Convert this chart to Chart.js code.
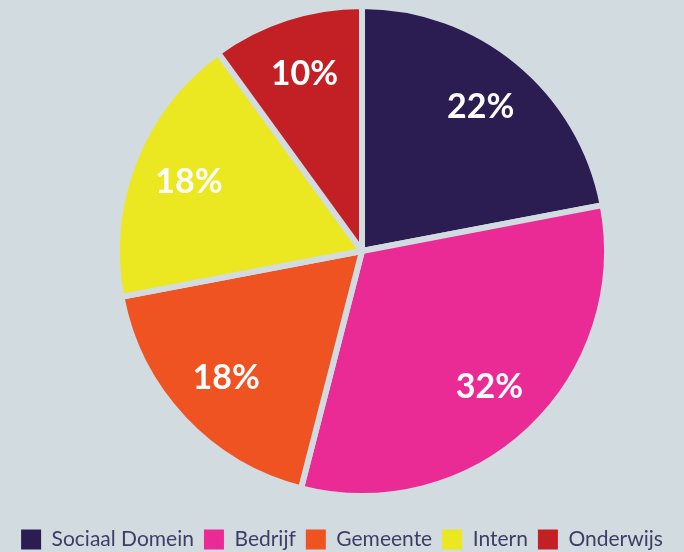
<!DOCTYPE html>
<html lang="nl">
<head>
  <meta charset="UTF-8">
  <title>Verdeling</title>
  <script src="https://cdn.jsdelivr.net/npm/chart.js"></script>
  <style>
    html, body { margin: 0; padding: 0; background: #d2dbe0; }
    #wrap { width: 684px; height: 552px; }
  </style>
</head>
<body>
  <div id="wrap"><canvas id="pieChart"></canvas></div>
  <script>
    // data
    const categories = ['Sociaal Domein', 'Bedrijf', 'Gemeente', 'Intern', 'Onderwijs'];
    const shares = [22, 32, 18, 18, 10];
    const sliceColors = ['#2b1c52', '#eb2b95', '#ef5322', '#ebe721', '#c32026'];

    // taart iets naar rechts en omhoog, legenda tegen de onderrand
    const pieArea = {
      id: 'pieArea',
      afterLayout(chart) {
        const a = chart.chartArea;
        a.left = 114; a.right = 610; a.width = 496;
        a.top = 3; a.bottom = 499; a.height = 496;
        chart.legend.top += 8;
        chart.legend.bottom += 8;
      }
    };

    // percentages op de taartpunten
    const pctLabels = {
      id: 'pctLabels',
      afterDatasetsDraw(chart) {
        const ctx = chart.ctx;
        const meta = chart.getDatasetMeta(0);
        ctx.save();
        ctx.fillStyle = '#ffffff';
        ctx.font = 'bold 34px Lato, sans-serif';
        ctx.textAlign = 'center';
        ctx.textBaseline = 'middle';
        meta.data.forEach((arc, i) => {
          const p = arc.getProps(['x', 'y', 'startAngle', 'endAngle', 'outerRadius'], true);
          const mid = (p.startAngle + p.endAngle) / 2;
          const r = p.outerRadius * 0.76;
          ctx.fillText(shares[i] + '%', p.x + Math.cos(mid) * r, p.y + Math.sin(mid) * r);
        });
        ctx.restore();
      }
    };

    new Chart(document.getElementById('pieChart'), {
      type: 'pie',
      data: {
        labels: categories,
        datasets: [{
          data: shares,
          backgroundColor: sliceColors,
          borderColor: '#d2dbe0',
          borderWidth: 6,
          hoverOffset: 0
        }]
      },
      options: {
        responsive: true,
        maintainAspectRatio: false,
        animation: false,
        plugins: {
          tooltip: { enabled: false },
          legend: {
            position: 'bottom',
            align: 'center',
            labels: {
              color: '#3f3d66',
              font: { family: 'Lato, sans-serif', size: 21 },
              boxWidth: 20,
              boxHeight: 20,
              padding: 10,
              generateLabels(chart) {
                return categories.map((c, i) => ({
                  text: c,
                  fillStyle: sliceColors[i],
                  strokeStyle: sliceColors[i],
                  lineWidth: 0,
                  fontColor: '#3f3d66',
                  index: i
                }));
              }
            }
          }
        }
      },
      plugins: [pieArea, pctLabels]
    });
  </script>
</body>
</html>
